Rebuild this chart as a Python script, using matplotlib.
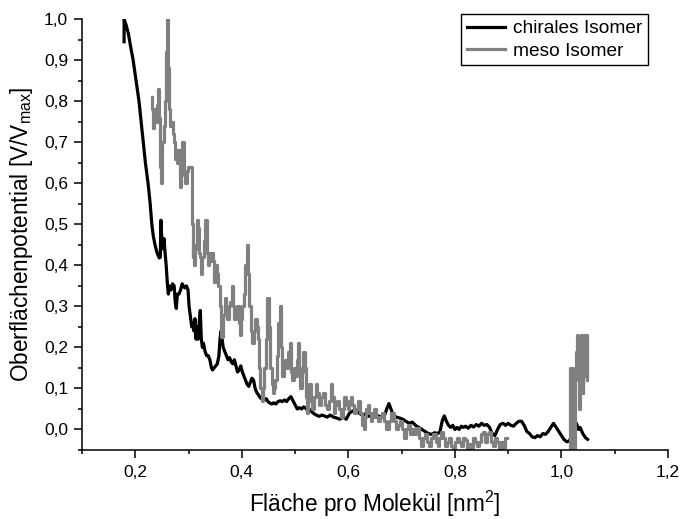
import numpy as np
import matplotlib
matplotlib.use("Agg")
import matplotlib.pyplot as plt
from matplotlib.ticker import MultipleLocator, FuncFormatter

plt.rcParams['font.family'] = ['Liberation Sans', 'DejaVu Sans']
plt.rcParams['mathtext.default'] = 'regular'

# chirales Isomer: area per molecule [nm^2] vs. normalised surface potential
chiral_x = [0.179, 0.179, 0.183, 0.187, 0.191, 0.196, 0.201, 0.207, 0.211, 0.215,
            0.219, 0.224, 0.228, 0.231, 0.234, 0.237, 0.241, 0.245, 0.247, 0.248,
            0.250, 0.252, 0.254, 0.256, 0.258, 0.260, 0.262, 0.264, 0.267, 0.270,
            0.273, 0.275, 0.277, 0.279, 0.282, 0.285, 0.288, 0.290, 0.293, 0.296,
            0.299, 0.301, 0.304, 0.306, 0.308, 0.310, 0.312, 0.314, 0.316, 0.318,
            0.320, 0.322, 0.324, 0.326, 0.328, 0.331, 0.334, 0.337, 0.340, 0.343,
            0.345, 0.348, 0.351, 0.354, 0.357, 0.359, 0.361, 0.363, 0.365, 0.368,
            0.371, 0.374, 0.377, 0.380, 0.383, 0.386, 0.389, 0.392, 0.395, 0.398,
            0.401, 0.404, 0.407, 0.410, 0.413, 0.416, 0.419, 0.422, 0.425, 0.428,
            0.431, 0.434, 0.437, 0.440, 0.443, 0.446, 0.449, 0.452, 0.456, 0.460,
            0.464, 0.468, 0.472, 0.476, 0.480, 0.484, 0.488, 0.492, 0.496, 0.500,
            0.504, 0.508, 0.512, 0.516, 0.520, 0.524, 0.528, 0.532, 0.536, 0.540,
            0.545, 0.550, 0.555, 0.560, 0.566, 0.572, 0.578, 0.584, 0.590, 0.596,
            0.602, 0.608, 0.612, 0.616, 0.620, 0.626, 0.632, 0.638, 0.644, 0.650,
            0.656, 0.662, 0.668, 0.672, 0.676, 0.680, 0.684, 0.690, 0.696, 0.702,
            0.708, 0.714, 0.720, 0.726, 0.732, 0.738, 0.744, 0.750, 0.756, 0.762,
            0.768, 0.772, 0.776, 0.780, 0.784, 0.788, 0.792, 0.796, 0.800, 0.804,
            0.808, 0.812, 0.816, 0.820, 0.825, 0.830, 0.835, 0.840, 0.845, 0.850,
            0.855, 0.860, 0.865, 0.870, 0.875, 0.880, 0.885, 0.890, 0.895, 0.900,
            0.905, 0.910, 0.915, 0.920, 0.925, 0.930, 0.935, 0.940, 0.945, 0.950,
            0.955, 0.960, 0.965, 0.970, 0.975, 0.980, 0.985, 0.990, 0.995, 1.000,
            1.005, 1.010, 1.015, 1.020, 1.025, 1.028, 1.032, 1.035, 1.040, 1.045,
            1.049]
chiral_y = [0.945, 1.000, 0.985, 0.965, 0.935, 0.900, 0.855, 0.800, 0.750, 0.700,
            0.650, 0.600, 0.550, 0.500, 0.470, 0.450, 0.430, 0.418, 0.420, 0.510,
            0.460, 0.440, 0.465, 0.430, 0.400, 0.360, 0.330, 0.350, 0.340, 0.355,
            0.350, 0.310, 0.295, 0.330, 0.330, 0.340, 0.355, 0.350, 0.345, 0.350,
            0.340, 0.300, 0.270, 0.250, 0.260, 0.240, 0.270, 0.220, 0.250, 0.220,
            0.260, 0.290, 0.220, 0.200, 0.210, 0.190, 0.180, 0.180, 0.170, 0.150,
            0.145, 0.150, 0.155, 0.160, 0.180, 0.220, 0.240, 0.220, 0.200, 0.190,
            0.180, 0.170, 0.175, 0.165, 0.160, 0.170, 0.155, 0.140, 0.145, 0.155,
            0.140, 0.130, 0.120, 0.110, 0.105, 0.115, 0.125, 0.120, 0.100, 0.090,
            0.085, 0.078, 0.075, 0.072, 0.072, 0.075, 0.068, 0.065, 0.062, 0.065,
            0.062, 0.068, 0.070, 0.068, 0.072, 0.068, 0.075, 0.080, 0.070, 0.060,
            0.050, 0.053, 0.050, 0.055, 0.052, 0.045, 0.048, 0.042, 0.038, 0.035,
            0.032, 0.035, 0.033, 0.030, 0.035, 0.030, 0.028, 0.025, 0.030, 0.025,
            0.040, 0.045, 0.047, 0.047, 0.040, 0.035, 0.038, 0.032, 0.035, 0.030,
            0.033, 0.030, 0.035, 0.050, 0.063, 0.050, 0.035, 0.030, 0.028, 0.025,
            0.020, 0.015, 0.018, 0.010, 0.005, 0.000, -0.005, -0.010, -0.012, -0.008,
            -0.010, -0.005, 0.020, 0.033, 0.020, 0.010, 0.005, 0.010, 0.000, 0.005,
            0.000, 0.008, 0.005, 0.008, 0.003, 0.010, 0.006, 0.012, 0.008, 0.015,
            0.010, 0.012, 0.005, -0.010, -0.015, 0.000, 0.012, 0.015, 0.010, 0.015,
            0.010, 0.008, 0.015, 0.020, 0.020, 0.010, -0.005, -0.010, -0.018, -0.020,
            -0.015, -0.018, -0.010, -0.012, -0.005, 0.005, 0.015, 0.005, -0.005, -0.015,
            -0.025, -0.030, -0.028, -0.010, 0.010, 0.015, 0.000, 0.005, -0.010, -0.020,
            -0.024]

# meso Isomer (gap between the two measured ranges marked with NaN)
meso_x = [0.231, 0.232, 0.233, 0.234, 0.235, 0.237, 0.238, 0.240, 0.242, 0.244,
          0.246, 0.248, 0.250, 0.252, 0.254, 0.256, 0.258, 0.260, 0.262, 0.265,
          0.267, 0.269, 0.271, 0.273, 0.275, 0.277, 0.280, 0.282, 0.284, 0.287,
          0.290, 0.292, 0.295, 0.298, 0.300, 0.303, 0.306, 0.307, 0.308, 0.310,
          0.312, 0.314, 0.316, 0.318, 0.320, 0.322, 0.325, 0.327, 0.330, 0.333,
          0.335, 0.337, 0.340, 0.342, 0.344, 0.347, 0.350, 0.352, 0.355, 0.357,
          0.360, 0.363, 0.366, 0.369, 0.371, 0.374, 0.377, 0.380, 0.382, 0.385,
          0.387, 0.390, 0.393, 0.395, 0.397, 0.400, 0.402, 0.405, 0.408, 0.410,
          0.413, 0.415, 0.418, 0.421, 0.424, 0.427, 0.429, 0.431, 0.434, 0.436,
          0.438, 0.441, 0.444, 0.446, 0.449, 0.452, 0.455, 0.457, 0.459, 0.462,
          0.464, 0.467, 0.470, 0.472, 0.475, 0.477, 0.480, 0.483, 0.486, 0.488,
          0.491, 0.494, 0.496, 0.499, 0.502, 0.504, 0.506, 0.509, 0.511, 0.514,
          0.517, 0.519, 0.521, 0.523, 0.526, 0.528, 0.531, 0.534, 0.537, 0.540,
          0.543, 0.547, 0.551, 0.554, 0.558, 0.562, 0.566, 0.569, 0.571, 0.574,
          0.577, 0.581, 0.585, 0.588, 0.590, 0.594, 0.598, 0.601, 0.603, 0.606,
          0.609, 0.613, 0.616, 0.620, 0.624, 0.627, 0.630, 0.633, 0.635, 0.638,
          0.641, 0.644, 0.646, 0.650, 0.654, 0.658, 0.662, 0.666, 0.669, 0.674,
          0.678, 0.683, 0.688, 0.692, 0.695, 0.699, 0.703, 0.707, 0.710, 0.714,
          0.718, 0.722, 0.725, 0.730, 0.735, 0.739, 0.742, 0.746, 0.750, 0.754,
          0.757, 0.762, 0.767, 0.770, 0.772, 0.776, 0.780, 0.784, 0.787, 0.791,
          0.795, 0.799, 0.802, 0.806, 0.810, 0.814, 0.817, 0.821, 0.825, 0.829,
          0.832, 0.836, 0.840, 0.844, 0.847, 0.851, 0.855, 0.859, 0.862, 0.866,
          0.870, 0.874, 0.877, 0.881, 0.885, 0.889, 0.892, 0.896, 0.900, np.nan,
          1.016, 1.017, 1.019, 1.020, 1.021, 1.023, 1.025, 1.026, 1.028, 1.029,
          1.031, 1.032, 1.034, 1.035, 1.037, 1.039, 1.040, 1.041, 1.043, 1.045,
          1.046, 1.048]
meso_y = [0.810, 0.780, 0.740, 0.735, 0.770, 0.760, 0.780, 0.750, 0.790, 0.830,
          0.760, 0.640, 0.600, 0.700, 0.740, 0.800, 0.920, 1.000, 0.880, 0.780,
          0.740, 0.750, 0.720, 0.700, 0.660, 0.680, 0.650, 0.680, 0.590, 0.640,
          0.700, 0.620, 0.600, 0.630, 0.640, 0.640, 0.640, 0.500, 0.420, 0.450,
          0.400, 0.440, 0.510, 0.490, 0.430, 0.420, 0.380, 0.420, 0.460, 0.510,
          0.430, 0.400, 0.430, 0.410, 0.430, 0.410, 0.360, 0.400, 0.380, 0.350,
          0.300, 0.225, 0.280, 0.320, 0.290, 0.270, 0.300, 0.310, 0.350, 0.300,
          0.270, 0.290, 0.300, 0.260, 0.230, 0.270, 0.300, 0.330, 0.400, 0.450,
          0.380, 0.300, 0.240, 0.210, 0.240, 0.270, 0.250, 0.220, 0.150, 0.100,
          0.070, 0.100, 0.150, 0.220, 0.320, 0.250, 0.150, 0.110, 0.090, 0.100,
          0.120, 0.180, 0.260, 0.300, 0.200, 0.130, 0.150, 0.170, 0.150, 0.190,
          0.210, 0.140, 0.120, 0.150, 0.130, 0.170, 0.210, 0.150, 0.100, 0.140,
          0.190, 0.150, 0.080, 0.040, 0.070, 0.110, 0.080, 0.050, 0.080, 0.110,
          0.090, 0.060, 0.080, 0.090, 0.060, 0.050, 0.070, 0.110, 0.080, 0.040,
          0.060, 0.070, 0.050, 0.030, 0.050, 0.080, 0.060, 0.050, 0.070, 0.080,
          0.060, 0.040, 0.050, 0.070, 0.040, 0.010, 0.000, 0.030, 0.050, 0.060,
          0.040, 0.020, 0.030, 0.050, 0.030, 0.020, 0.030, 0.040, 0.020, 0.000,
          0.020, 0.040, 0.020, 0.000, 0.010, 0.020, 0.000, -0.020, 0.000, 0.010,
          -0.010, 0.000, -0.010, 0.003, -0.020, -0.040, -0.020, -0.010, -0.030, -0.040,
          -0.020, -0.010, -0.030, -0.040, -0.020, -0.005, -0.020, -0.040, -0.030, -0.020,
          -0.040, -0.045, -0.030, -0.020, -0.030, -0.040, -0.020, -0.025, -0.045, -0.035,
          -0.045, -0.020, -0.030, -0.040, -0.030, -0.010, -0.005, -0.030, -0.010, -0.005,
          -0.030, -0.040, -0.020, -0.030, -0.045, -0.030, -0.045, -0.020, -0.020, np.nan,
          -0.050, 0.150, 0.100, -0.050, 0.150, 0.050, -0.050, 0.120, 0.190, 0.150,
          0.230, 0.150, 0.050, 0.130, 0.230, 0.200, 0.090, 0.160, 0.230, 0.130,
          0.230, 0.120]

fig = plt.figure(figsize=(6.8, 5.19), dpi=100)
ax = fig.add_axes([0.1206, 0.133, 0.8618, 0.830])

ax.plot(chiral_x, chiral_y, color='black', lw=2.3, label='chirales Isomer',
        solid_joinstyle='round')
ax.plot(meso_x, meso_y, color='#808080', lw=2.3, label='meso Isomer',
        drawstyle='steps-mid')

for side in ('top', 'right'):
    ax.spines[side].set_visible(False)
for side in ('left', 'bottom'):
    ax.spines[side].set_linewidth(1.1)

ax.xaxis.set_major_locator(MultipleLocator(0.2))
ax.xaxis.set_minor_locator(MultipleLocator(0.1))
ax.yaxis.set_major_locator(MultipleLocator(0.1))
ax.yaxis.set_minor_locator(MultipleLocator(0.05))

comma = FuncFormatter(lambda v, pos: f"{v:.1f}".replace('.', ',').replace('-0,0', '0,0'))
ax.xaxis.set_major_formatter(comma)
ax.yaxis.set_major_formatter(comma)

ax.set_xlim(0.1, 1.2)
ax.set_ylim(-0.05, 1.0)

ax.tick_params(which='major', direction='out', length=6, width=1.1, labelsize=12.5, pad=4)
ax.tick_params(which='minor', direction='out', length=3, width=1.1)
ax.tick_params(axis='x', which='major', pad=5)

ax.set_xlabel('Fläche pro Molekül [nm$^{2}$]', fontsize=16.3)
ax.set_ylabel('Oberflächenpotential [V/V$_{max}$]', fontsize=16.3)
ax.xaxis.set_label_coords(0.5, -0.09)
ax.yaxis.set_label_coords(-0.08, 0.5)

leg = ax.legend(loc='upper right', bbox_to_anchor=(0.966, 1.0116), fontsize=13.8,
                frameon=True, fancybox=False, edgecolor='black', framealpha=1,
                handlelength=2.0, handletextpad=0.4, borderpad=0.3,
                labelspacing=0.25, borderaxespad=0)
leg.get_frame().set_linewidth(1.0)

fig.savefig('out.png', dpi=100)
